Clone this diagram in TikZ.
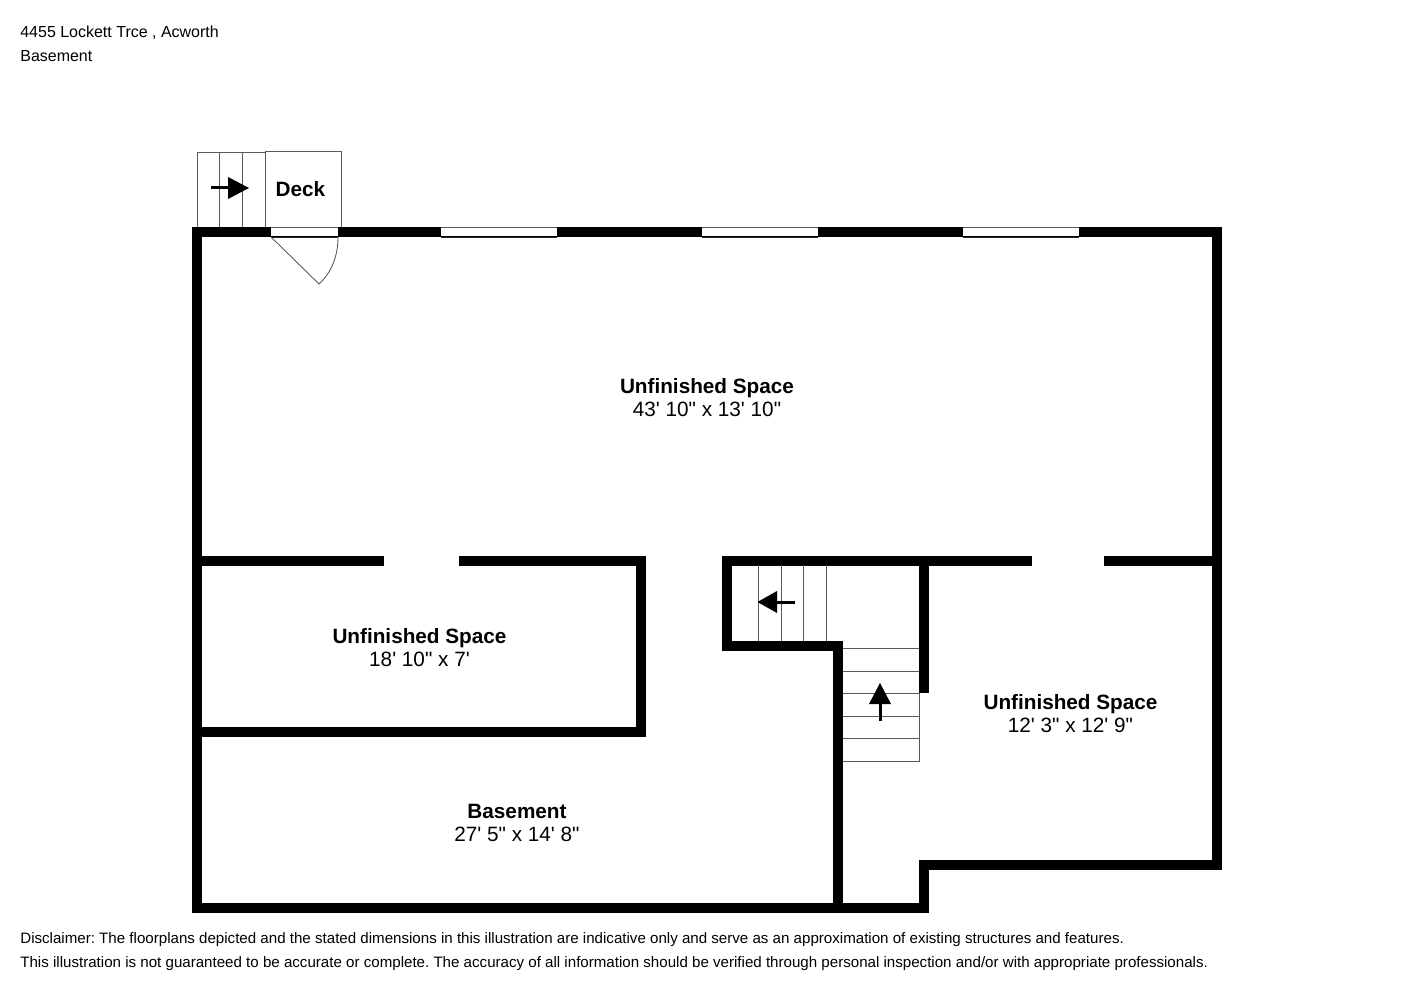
\documentclass[tikz,border=0pt]{standalone}
\usepackage{fontspec}
\setmainfont[Ligatures=TeXOff]{Liberation Sans}

\begin{document}
\frenchspacing
\begin{tikzpicture}[x=0.02cm,y=-0.02cm]
\tikzstyle{every node}+=[inner sep=0pt]
\tikzstyle{wall}=[black,line width=10*0.02cm,miter limit=10]
\tikzstyle{thinline}=[black!65,line width=0.5pt]
\tikzstyle{roomlabel}=[align=center,font=\fontsize{11.8pt}{13.1pt}\selectfont]
\tikzstyle{note}=[anchor=west,font=\fontsize{8.6pt}{10pt}\selectfont]
\tikzstyle{header}=[anchor=west,font=\fontsize{9.1pt}{10pt}\selectfont]
\useasboundingbox (0,0) rectangle (1414,1000);
% outer walls
\draw [wall] (197,232) -- (1217,232) -- (1217,865) -- (924,865) -- (924,908) -- (197,908) -- cycle;
% inner walls
\draw [wall] (197,560.5) -- (384,560.5);
\draw [wall] (459,560.5) -- (641,560.5) -- (641,732) -- (197,732);
\draw [wall] (1032,560.5) -- (727,560.5) -- (727,646) -- (838,646) -- (838,908);
\draw [wall] (1104,560.5) -- (1217,560.5);
\draw [wall] (924,560.5) -- (924,693);
% windows and door
\fill [white] (441,227.5) rectangle (557,236.5);
\fill [white] (702,227.5) rectangle (818,236.5);
\fill [white] (963,227.5) rectangle (1079,236.5);
\fill [white] (271,227.5) rectangle (338,236.5);
\draw [thinline] (441,227) -- (557,227);
\draw [black!85,line width=0.5pt] (441,237) -- (557,237);
\draw [thinline] (702,227) -- (818,227);
\draw [black!85,line width=0.5pt] (702,237) -- (818,237);
\draw [thinline] (963,227) -- (1079,227);
\draw [black!85,line width=0.5pt] (963,237) -- (1079,237);
\draw [thinline] (271,227) -- (338,227);
\draw [black!85,line width=0.5pt] (271,237) -- (338,237);
\draw [thinline] (271,237) -- (319,284) .. controls (331,273) and (338,257) .. (338,237);
% deck and outside stairs
\draw [thinline] (265,227) -- (265,151) -- (341,151) -- (341,227);
\draw [thinline] (197,227) -- (197,152) -- (265,152);
\draw [thinline] (219.5,152) -- (219.5,227);
\draw [thinline] (242.5,152) -- (242.5,227);
\draw [black,line width=3*0.02cm] (211,188) -- (230,188);
\fill [black] (249,188) -- (228,177) -- (228,199) -- cycle;
% upper stair run
\draw [thinline] (758,565) -- (758,641);
\draw [thinline] (781,565) -- (781,641);
\draw [thinline] (803.5,565) -- (803.5,641);
\draw [thinline] (826,565) -- (826,641);
\draw [black,line width=3*0.02cm] (775,602) -- (794.5,602);
\fill [black] (757.5,602) -- (777,591) -- (777,613) -- cycle;
% lower stair run
\draw [thinline] (843,648.5) -- (919,648.5);
\draw [thinline] (843,671) -- (919,671);
\draw [thinline] (843,693.5) -- (919,693.5);
\draw [thinline] (843,716) -- (919,716);
\draw [thinline] (843,738.5) -- (919,738.5);
\draw [thinline] (843,761) -- (919.5,761) -- (919.5,693);
\draw [black,line width=3*0.02cm] (880,702) -- (880,721);
\fill [black] (880,683) -- (869,704) -- (891,704) -- cycle;
% labels
\node [roomlabel] (deck) at (300.5,189) {\textbf{Deck}};
\node [roomlabel] (unfinishedtop) at (707,397.5) {\textbf{Unfinished Space}\\43' 10" x 13' 10"};
\node [roomlabel] (unfinishedleft) at (419.5,648) {\textbf{Unfinished Space}\\18' 10" x 7'};
\node [roomlabel] (unfinishedright) at (1070.5,714) {\textbf{Unfinished Space}\\12' 3" x 12' 9"};
\node [roomlabel] (basement) at (517,823) {\textbf{Basement}\\27' 5" x 14' 8"};
\node [header] (address) at (20,32.5) {4455 Lockett Trce , Acworth};
\node [header] (floor) at (20,56.5) {Basement};
\node [note] (disclaimerone) at (20,940) {Disclaimer: The floorplans depicted and the stated dimensions in this illustration are indicative only and serve as an approximation of existing structures and features.};
\node [note] (disclaimertwo) at (20,964) {This illustration is not guaranteed to be accurate or complete. The accuracy of all information should be verified through personal inspection and/or with appropriate professionals.};
\end{tikzpicture}
\end{document}
